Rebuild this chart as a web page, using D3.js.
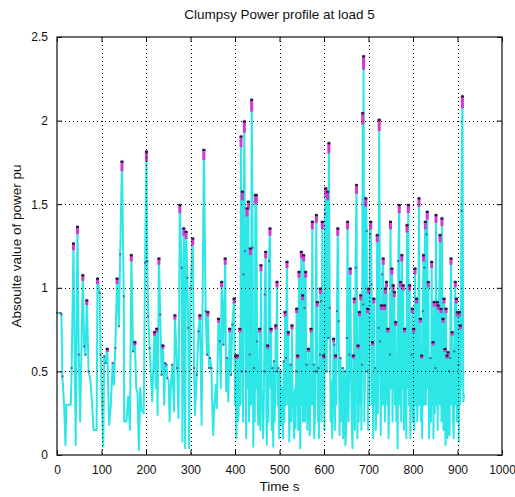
<!DOCTYPE html>
<html><head><meta charset="utf-8">
<script src="https://cdn.jsdelivr.net/npm/d3@7"></script>
<style>body{margin:0;background:#fff;} text{font-family:"Liberation Sans",Arial,sans-serif;}</style>
</head><body>
<svg id="c" width="515" height="497"></svg>
<script>
const title = "Clumpsy Power profile at load 5";
const xLabel = "Time s";
const yLabel = "Absoulte value of power pu";
const xTicks = [0,100,200,300,400,500,600,700,800,900,1000];
const yTicks = [0,0.5,1,1.5,2,2.5];
const yTickLabels = ["0","0.5","1","1.5","2","2.5"];

// segment 0 - 400 s
const timesA = [0,8,10,12,16,19,21,31,33,37,42,46,49,52,58,61,64,67,71,75,79,82,89,91,96,98,100,104,106,109,113,117,121,125,128,131,135,139,142,146,150,151,156,160,164,167,171,175,178,181,184,187,190,195,198,201,203,205,208,214,219,222,224,226,229,232,235,238,241,243,246,248,251,253,256,259,263,265,270,273,276,280,282,285,288,290,293,295,297,300,305,308,310,314,318,321,325,330,334,337,339,342,344,347,348,351,353,357,359,363,366,368,370,374,378,380,382,385,388,391,394,398];
const powerA = [0.85,0.85,0.84,0.47,0.3,0.06,0.3,0.3,0.52,1.27,0.06,1.37,0.6,0.2,1.08,0.65,0.6,0.93,0.5,0.45,0.3,0.15,0.15,1.06,0.97,0.6,0.4,0.05,0.59,0.55,0.64,0.18,0.3,0.55,0.42,0.64,1.06,0.77,1.2,1.76,0.95,0.2,0.2,0.35,0.15,1.2,0.62,0.68,0.4,0.37,0.03,0.4,0.27,0.25,1.15,1.82,1.16,0.83,0.64,0.32,0.74,0.4,0.76,0.24,1.18,0.84,0.48,0.66,0.3,0.55,0.54,0.46,0.44,0.2,0.43,0.54,0.26,0.84,0.52,0.22,1.5,1.12,0.08,1.36,0.04,1.34,1.06,0.76,0.04,1.0,1.3,0.52,0.24,0.48,0.74,0.84,0.18,1.83,0.86,0.6,0.86,0.52,0.58,0.52,0.38,0.12,0.27,0.42,0.28,0.82,0.68,0.4,1.04,0.66,1.18,0.38,0.58,0.32,0.76,0.48,0.78,0.94];
// segment 400 - 602 s
const timesB = [400,401.5,403,405,407,409,411,412.5,413.5,415,416.5,418,419,421,422.5,424,425,427,428.5,430,431.5,433,434.5,436,437.5,439.7,441,443,444.5,445.7,447,448,449.5,451,452.4,454,455.4,457,458.4,460,461.4,463,464.4,465.5,466.7,469,470.5,471.5,473.4,475,476.4,478.6,480,481,482.5,484,486,487.5,489,490.5,491.5,493,494.4,496,497.4,499,500.4,502,503.4,505,506.4,508,509.4,511,512.4,513.5,514.6,516.8,518.5,519.8,521,522,523.5,525,526.5,528,529.5,531,532.5,533.5,535,536,537.5,538.6,540,540.8,542,543.8,545,546.8,549,550.5,552,553,554.3,556,557.2,558.8,560,561,562.5,563.5,565,566.5,568,569.5,570.8,572,573.8,575.5,576.8,578,579.8,581,582.8,584,585,586.5,587.5,588.5,589.5,591,591.7,593.2,594.5,596.2,597.5,599.2,601];
const powerB = [0.3,0.6,0.1,0.6,0.2,0.32,0.76,0.3,1.91,0.5,1.58,0.2,1.08,2.0,1.22,0.5,0.1,1.48,0.4,1.52,0.2,0.6,1.24,0.3,2.13,1.24,0.05,0.52,0.2,1.56,0.4,1.56,0.68,0.3,0.18,0.4,0.76,0.15,1.14,0.3,0.36,0.1,0.26,0.5,0.96,1.22,0.3,0.06,0.66,0.2,1.16,1.36,0.4,0.76,0.15,0.52,0.05,0.56,0.2,0.4,0.78,0.5,1.04,0.3,0.52,0.1,0.26,0.5,0.18,0.4,0.26,0.1,0.56,0.2,0.86,0.3,0.58,1.16,0.3,0.74,0.35,0.08,0.3,0.54,0.2,0.78,0.3,0.38,0.1,0.26,0.4,0.16,0.5,0.88,0.3,0.6,0.15,1.1,0.3,0.04,1.22,0.3,0.96,0.2,1.2,0.88,0.2,1.1,0.3,0.54,0.15,0.32,0.64,0.3,0.12,0.4,0.76,0.3,1.4,0.3,0.54,0.1,0.24,0.5,1.44,0.5,0.92,0.2,0.52,0.1,0.32,0.6,1.0,0.92,0.2,1.4,0.3,0.6,0.15];
// segment 602 - 915 s
const timesC = [602.2,604,606,608,609.5,611,613,615,617,618.5,620,621.5,623,624.5,626,627.5,629,631,633,635,637,638.5,640,642,643,644.5,646,648,650,651.5,653,655,657,659,661,662.5,664,666,667,668,669.5,671,673,675,676.5,678,679.5,681,682.5,684,685.5,687,688,689,690.5,692,694,696,697,698,699,700.5,702,703.5,705,707,708,709,710.5,712,713.5,715,716.5,718,719.5,721,722.5,724,726,727.5,729,730,731,733,734.5,736,737,738,739,740.5,742,743.5,745,746.5,748,749.5,751,752.5,754,755.5,757,758,759.5,761,762.5,764,765.5,767,769,770.5,772,773.5,775,776.5,778,779.5,781,782.5,784,785,786.5,788,789.5,791,792.5,794,795.5,797,798.5,800,801.5,803,804.5,806,808,809.5,811,813.5,815,816.5,818,819.5,820.5,822,823.5,824.5,825.5,827.7,829,830.5,832,833.5,834.5,836,837.5,839,840.5,842,843.5,845,846,847.5,849,850.5,851.7,853,854.5,855.5,856.5,857.5,858.5,860.7,862,863,864,865,866.5,867.5,868.5,869.7,871,872,873,874.2,875.5,876.5,877.5,878.7,880,881,882,883.5,885.4,887,888,890,891.5,893,895,896.5,897.5,898.5,899.6,901,902,903,904.5,905.5,906.5,907.5,908.6,911,913,915];
const powerC = [1.44,1.6,0.5,1.58,0.7,1.87,0.88,0.2,0.44,0.1,0.36,0.7,0.66,0.15,0.6,0.3,0.86,1.36,0.8,0.12,0.58,0.2,0.4,0.52,0.1,0.28,0.5,0.06,0.16,0.7,1.4,0.2,0.6,1.12,0.44,0.2,0.04,0.6,0.25,0.94,0.15,1.12,1.62,0.1,0.66,0.2,0.86,0.3,0.96,0.15,0.54,2.05,0.9,2.39,0.2,0.44,1.54,1.34,0.5,0.88,0.15,1.0,0.3,1.32,1.4,1.02,0.3,0.68,0.1,0.94,0.3,0.52,0.15,0.4,1.32,0.25,0.76,2.01,0.68,0.12,0.9,0.3,1.08,1.18,0.3,0.9,0.2,1.0,0.35,1.04,0.3,0.76,0.1,0.28,0.6,1.4,0.4,1.12,0.2,1.02,0.4,0.98,0.3,0.8,0.2,0.4,0.04,1.16,1.5,0.3,1.04,0.2,1.2,0.4,1.02,0.15,0.76,0.2,0.4,0.1,1.38,0.4,1.5,0.3,1.02,0.1,0.32,0.6,0.88,0.2,0.76,0.15,1.12,0.3,0.94,0.2,0.34,1.54,0.3,0.82,0.2,0.6,0.1,0.86,1.2,0.3,1.12,1.4,0.3,1.32,1.46,0.4,1.04,0.1,0.22,0.58,0.2,1.16,0.3,0.68,0.1,0.92,0.25,0.52,1.44,0.3,0.92,0.15,0.9,0.3,0.88,1.32,0.3,0.88,0.2,1.42,0.3,0.82,0.15,0.94,0.3,0.64,0.06,0.88,0.2,0.6,0.1,0.62,0.2,0.5,0.12,0.58,1.18,0.3,0.74,0.22,0.1,0.62,1.04,0.3,0.94,0.2,0.86,0.3,0.54,0.08,0.86,0.3,0.78,0.4,1.46,2.15,0.32,0.36];

const times = timesA.concat(timesB, timesC);
const power = powerA.concat(powerB, powerC);

const svg = d3.select("#c");
const L = 57, R = 502, T = 37, B = 455;
const x = d3.scaleLinear().domain([0,1000]).range([L,R]);
const y = d3.scaleLinear().domain([0,2.5]).range([B,T]);
const data = times.map((t,i)=>({t, v: power[i]}));

// data line
svg.append("path").datum(data)
  .attr("fill","none").attr("stroke","#2de6e6").attr("stroke-width",2)
  .attr("stroke-linejoin","round")
  .attr("d", d3.line().x(d=>x(d.t)).y(d=>y(d.v)));

// vertex dots and peak caps
const peaks = data.filter((d,i)=> i>0 && i<data.length-1 && d.v>=0.6 && d.v>data[i-1].v && d.v>=data[i+1].v);
const mids = data.filter((d,i)=> d.v>0.45 && !peaks.includes(d));
svg.append("g").selectAll("rect").data(mids).join("rect")
  .attr("x", d=>x(d.t)-1).attr("y", d=>y(d.v)-1).attr("width",2).attr("height",2)
  .attr("fill","#4a3a8e").attr("opacity",0.75);
const capG = svg.append("g");
capG.selectAll("rect.cap").data(peaks).join("rect").attr("class","cap")
  .attr("x", d=>x(d.t)-1.5).attr("y", d=>y(d.v))
  .attr("width",3).attr("height", d=>Math.max(4, d.v*6))
  .attr("fill","#d23ad2");
capG.selectAll("rect.tip").data(peaks).join("rect").attr("class","tip")
  .attr("x", d=>x(d.t)-1.5).attr("y", d=>y(d.v))
  .attr("width",3).attr("height",2).attr("fill","#3a1030");

// grid (dotted, on top)
const grid = svg.append("g").attr("stroke","#000").attr("stroke-width",1).attr("stroke-dasharray","1,3");
grid.selectAll("line.gx").data(xTicks.slice(1,-1)).join("line")
  .attr("x1",d=>Math.round(x(d))+0.5).attr("x2",d=>Math.round(x(d))+0.5).attr("y1",T).attr("y2",B);
grid.selectAll("line.gy").data(yTicks.slice(1,-1)).join("line")
  .attr("y1",d=>Math.round(y(d))+0.5).attr("y2",d=>Math.round(y(d))+0.5).attr("x1",L).attr("x2",R);

// axes with inner ticks on all four sides
const ax = svg.append("g").attr("transform",`translate(0,${B})`)
  .call(d3.axisBottom(x).tickValues(xTicks).tickSize(-5).tickPadding(10).tickFormat(d3.format("d")));
const axT = svg.append("g").attr("transform",`translate(0,${T})`)
  .call(d3.axisTop(x).tickValues(xTicks).tickSize(-5).tickFormat(""));
const ay = svg.append("g").attr("transform",`translate(${L},0)`)
  .call(d3.axisLeft(y).tickValues(yTicks).tickSize(-5).tickPadding(9).tickFormat((d,i)=>yTickLabels[i]));
const ayR = svg.append("g").attr("transform",`translate(${R},0)`)
  .call(d3.axisRight(y).tickValues(yTicks).tickSize(-5).tickFormat(""));
[ax,axT,ay,ayR].forEach(g=>{
  g.select(".domain").remove();
  g.selectAll(".tick line").attr("stroke","#000");
  g.selectAll("text").attr("font-size",12).attr("fill","#111").attr("font-family","Liberation Sans, Arial, sans-serif");
});
svg.append("rect").attr("x",L).attr("y",T).attr("width",R-L).attr("height",B-T)
  .attr("fill","none").attr("stroke","#222").attr("stroke-width",1.3);

svg.append("text").attr("x",(L+R)/2).attr("y",19).attr("text-anchor","middle")
  .attr("font-size",13.5).attr("fill","#111").text(title);
svg.append("text").attr("x",(L+R)/2).attr("y",491).attr("text-anchor","middle")
  .attr("font-size",13.5).attr("fill","#111").text(xLabel);
svg.append("text").attr("transform",`translate(21,${(T+B)/2}) rotate(-90)`).attr("text-anchor","middle")
  .attr("font-size",13.5).attr("fill","#111").text(yLabel);
</script>
</body></html>
